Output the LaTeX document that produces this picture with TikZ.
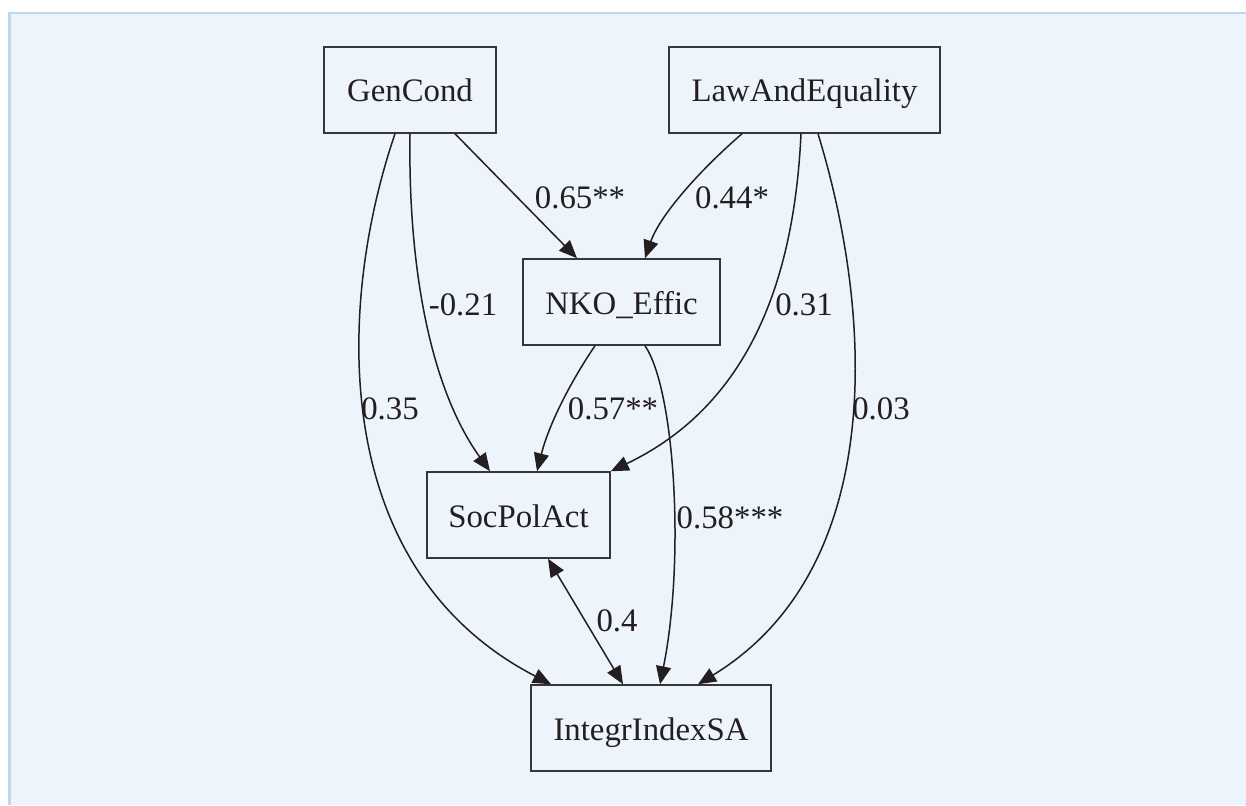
\documentclass[tikz,border=0pt]{standalone}
\usepackage{fontspec}
\setmainfont{Liberation Serif}
\usetikzlibrary{arrows.meta}
\tikzstyle{every path}=[line width=1.5pt]
\definecolor{backfill}{RGB}{237,244,251}
\definecolor{backline}{RGB}{190,214,238}
\definecolor{ink}{RGB}{35,31,32}
\definecolor{boxline}{RGB}{55,55,55}
\tikzstyle{varbox}=[draw=boxline, rectangle, minimum height=86pt, inner sep=0pt, text=ink, font=\fontsize{32.8}{40}\selectfont, text height=24pt, text depth=0pt]
\tikzstyle{coef}=[inner sep=0pt, text=ink, font=\fontsize{32.8}{40}\selectfont, text height=21.6pt, text depth=0pt]
\tikzstyle{link}=[draw=ink, -{Triangle[length=18pt,width=15pt]}]

\begin{document}
\begin{tikzpicture}[x=1pt, y=-1pt]
            \useasboundingbox (0,0) rectangle (1246,805);
            \fill[backfill] (8,12) rectangle (1246,805);
            \draw[backline, line width=2.5pt] (9.5,805) -- (9.5,13) -- (1246,13);

            \node[varbox, minimum width=172pt] (gen) at (410,90) {GenCond};
            \node[varbox, minimum width=271pt] (law) at (804.5,90) {LawAndEquality};
            \node[varbox, minimum width=197pt] (nko) at (621.5,302) {NKO\_Effic};
            \node[varbox, minimum width=183pt] (soc) at (518.5,515) {SocPolAct};
            \node[varbox, minimum width=240pt] (integ) at (651,728) {IntegrIndexSA};

            \draw[link] ([xshift=45pt]gen.south) -- ([xshift=-44.5pt]nko.north);
            \draw[link] ([xshift=-62.5pt]law.south) .. controls (700,170) and (660,215) .. ([xshift=23.5pt]nko.north);
            \draw[link] (gen.south) .. controls (408,260) and (428,385) .. ([xshift=-28.5pt]soc.north);
            \draw[link] ([xshift=-15pt]gen.south) .. controls (335,310) and (330,570) .. ([xshift=-100pt]integ.north);
            \draw[link] ([xshift=-3.5pt]law.south) .. controls (795,260) and (760,400) .. (soc.north east);
            \draw[link] ([xshift=13.5pt]law.south) .. controls (875,320) and (885,570) .. ([xshift=47pt]integ.north);
            \draw[link] ([xshift=-26.5pt]nko.south) .. controls (575,375) and (550,420) .. ([xshift=18.5pt]soc.north);
            \draw[link] ([xshift=23.5pt]nko.south) .. controls (675,390) and (685,560) .. ([xshift=9pt]integ.north);
            \draw[link, {Triangle[length=18pt,width=15pt]}-{Triangle[length=18pt,width=15pt]}]
                ([xshift=29.5pt]soc.south) -- ([xshift=-28pt]integ.north);

            \node[coef] (w65) at (580,198) {0.65**};
            \node[coef] (w44) at (732,198) {0.44*};
            \node[coef] (w21) at (463,305) {-0.21};
            \node[coef] (w31) at (804,305) {0.31};
            \node[coef] (w35) at (390,409) {0.35};
            \node[coef] (w03) at (881,409) {0.03};
            \node[coef] (w57) at (613,409) {0.57**};
            \node[coef] (w58) at (730,518) {0.58***};
            \node[coef] (w4) at (617,621) {0.4};
\end{tikzpicture}
\end{document}
